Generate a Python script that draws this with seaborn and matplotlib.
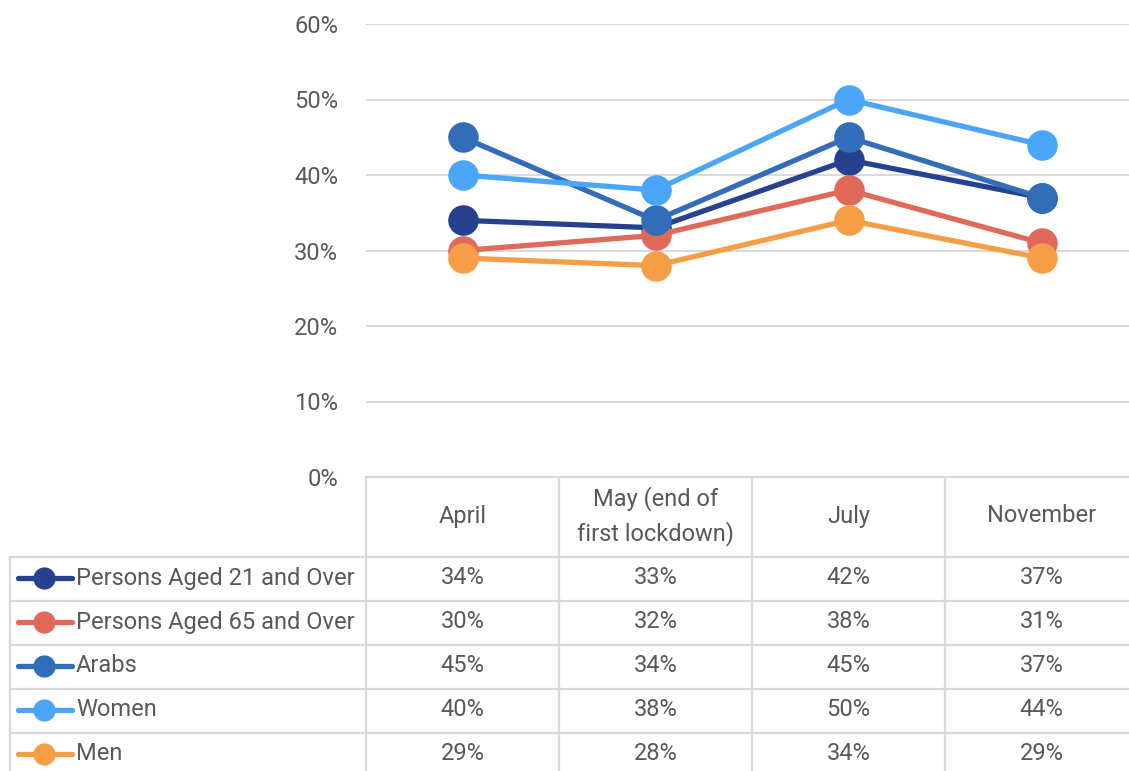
import matplotlib.pyplot as plt
import matplotlib.transforms as mtransforms
import seaborn as sns
import pandas as pd
from matplotlib.lines import Line2D

# data (percent)
months = ["April", "May (end of\nfirst lockdown)", "July", "November"]
groups = ["Persons Aged 21 and Over", "Persons Aged 65 and Over", "Arabs", "Women", "Men"]
aged21 = [34, 33, 42, 37]
aged65 = [30, 32, 38, 31]
arabs = [45, 34, 45, 37]
women = [40, 38, 50, 44]
men = [29, 28, 34, 29]
colors = ["#264190", "#E0695A", "#316DB8", "#4BA6F9", "#F59E45"]

series = [aged21, aged65, arabs, women, men]
rows = []
for g, vals in zip(groups, series):
    for i, v in enumerate(vals):
        rows.append({"group": g, "pos": i, "value": v})
df = pd.DataFrame(rows)

sns.set_theme(style="white")
plt.rcParams["font.family"] = ["Roboto", "DejaVu Sans"]
txt = "#595959"
grid = "#d9d9d9"
fs = 17

W, H = 1129, 771
fig = plt.figure(figsize=(W / 100, H / 100), dpi=100)
ax = fig.add_axes([366 / W, 1 - 477 / H, 772 / W, 453 / H])

sns.lineplot(data=df, x="pos", y="value", hue="group", hue_order=groups,
             palette=colors, marker="o", markersize=22, markeredgewidth=0,
             linewidth=3.8, sort=False, legend=False, ax=ax)

ax.set_xlim(-0.5, 3.5)
ax.set_ylim(0, 60)
ax.set_yticks(range(0, 70, 10))
ax.set_yticklabels([f"{t}%" for t in range(0, 70, 10)], color=txt, fontsize=fs)
ax.tick_params(axis="y", length=0, pad=20)
ax.set_xticks([])
ax.set_xlabel("")
ax.set_ylabel("")
ax.grid(axis="y", color=grid, linewidth=1.4)
for s in ax.spines.values():
    s.set_visible(False)

# data table under the plot
def fx(x):
    return x / W

def fy(y):
    return 1 - y / H

def hline(y, x0, x1):
    fig.add_artist(Line2D([fx(x0), fx(x1)], [fy(y), fy(y)], color=grid, lw=1.6))

def vline(x, y0, y1):
    fig.add_artist(Line2D([fx(x), fx(x)], [fy(y0), fy(y1)], color=grid, lw=1.6))

hline(477, 366, W)
for y in [557, 601, 645, 689, 733]:
    hline(y, 10, W)
vline(10, 557, H)
for x in [366, 559, 752, 945]:
    vline(x, 477, H)

trans = mtransforms.blended_transform_factory(ax.transData, fig.transFigure)
for i, m in enumerate(months):
    fig.text(i, fy(516), m, transform=trans, ha="center", va="center",
             color=txt, fontsize=fs, linespacing=1.52)

row_y = [578, 622, 666, 710, 754]
for g, vals, c, ry in zip(groups, series, colors, row_y):
    fig.add_artist(Line2D([fx(18), fx(72)], [fy(ry), fy(ry)], color=c, lw=3.8,
                          solid_capstyle="round"))
    fig.add_artist(Line2D([fx(44)], [fy(ry)], color=c, marker="o",
                          markersize=16, markeredgewidth=0))
    fig.text(fx(76), fy(ry), g, ha="left", va="center", color=txt, fontsize=fs)
    for i, v in enumerate(vals):
        fig.text(i, fy(ry), f"{v}%", transform=trans, ha="center", va="center",
                 color=txt, fontsize=fs)

fig.savefig("out.png", dpi=100)
